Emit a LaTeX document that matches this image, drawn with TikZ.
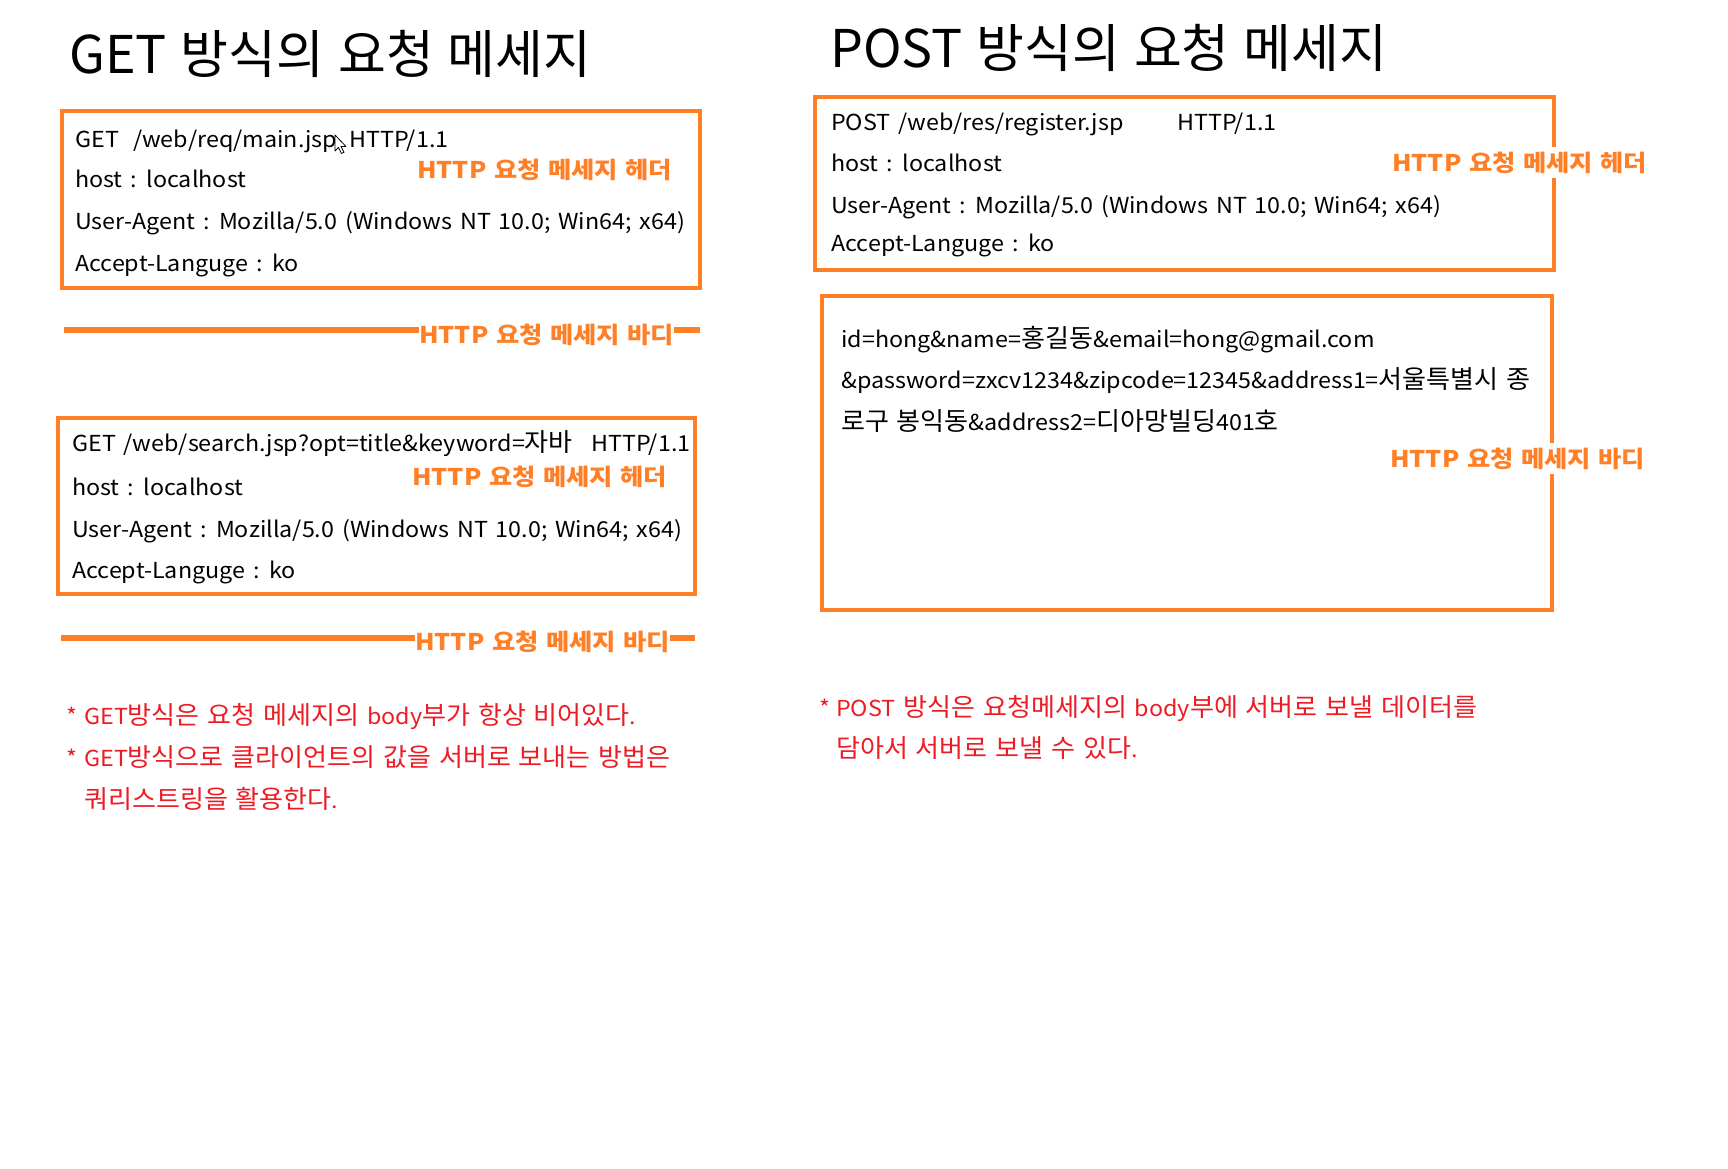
\documentclass[tikz,border=0pt]{standalone}
\usepackage{fontspec}
\setmainfont{Noto Sans CJK KR}[FakeStretch=1.06, WordSpace=1.5]
\newfontfamily\hangf{Noto Sans CJK KR}[Scale=1.15, FakeStretch=1.03, WordSpace=1.3]
\newfontfamily\lblfam{Noto Sans CJK KR}[FakeStretch=1.1, WordSpace=1.3]
\newfontfamily\ttlfam{Noto Sans CJK KR}[WordSpace=1.2]
\newXeTeXintercharclass\hangulclass
\count255="AC00
\loop\ifnum\count255<"D7A4 \XeTeXcharclass\count255=\hangulclass \advance\count255 by 1 \repeat
\XeTeXinterchartoks 0 \hangulclass = {\hangf}
\XeTeXinterchartoks 4095 \hangulclass = {\hangf}
\XeTeXinterchartoks \hangulclass 0 = {\rmfamily}
\XeTeXinterchartoks \hangulclass 4095 = {\rmfamily}
\XeTeXinterchartokenstate=1
\usetikzlibrary{calc}
\definecolor{orng}{RGB}{255,127,39}
\definecolor{rd}{RGB}{237,28,36}
\newcommand{\bodyf}{\fontsize{22}{26}\selectfont}
\newcommand{\lblf}{\XeTeXinterchartokenstate=0 \lblfam\fontsize{23}{27}\selectfont\bfseries}
\newcommand{\titlef}{\XeTeXinterchartokenstate=0 \ttlfam\fontsize{52}{58}\selectfont}
\begin{document}
\begin{tikzpicture}[x=1pt,y=-1pt,
  box/.style={draw=orng,line width=3.3pt},
  txt/.style={anchor=base west,inner sep=0pt,font=\bodyf,text=black},
  lbl/.style={anchor=base west,inner xsep=0pt,inner ysep=5pt,font=\lblf,text=orng},
  wlbl/.style={lbl,fill=white},
  note/.style={anchor=base west,inner sep=0pt,font=\bodyf,text=rd},
  ttl/.style={anchor=base west,inner sep=0pt,font=\titlef,text=black},
  divider/.style={draw=orng,line width=5.5pt},
  cursor/.style={draw=black,fill=white,line width=0.8pt,line join=round}]
\useasboundingbox[fill=white] (0,0) rectangle (1728,1168);

% titles
\node[ttl] (t1) at (69,73) {GET 방식의 요청 메세지};
\node[ttl] (t2) at (830,67) {POST 방식의 요청 메세지};

% GET box 1
\draw[box] (62,111) rectangle (700,288);
\node[txt] (a1) at (75,147) {GET};
\node[txt] (a2) at (133,147) {/web/req/main.jsp};
\node[txt] (a3) at (349,147) {HTTP/1.1};
\node[txt] (a4) at (75,187) {host : localhost};
\node[txt] (a5) at (75,229) {User-Agent : Mozilla/5.0 (Windows NT 10.0; Win64; x64)};
\node[txt] (a6) at (75,271) {Accept-Languge : ko};
\node[lbl] (ah) at (417,178) {HTTP 요청 메세지 헤더};
\draw[cursor] (335,135) -- ++(0,16) -- ++(3.5,-3.5) -- ++(3,6) -- ++(2.5,-1.2) -- ++(-3,-5.8) -- ++(5,0) -- cycle;

% GET body 1
\node[lbl,inner ysep=0pt] (ab) at (419,343) {HTTP 요청 메세지 바디};
\coordinate (ab1) at (64,330);
\coordinate (ab2) at (700,330);
\draw[divider] (ab1) -- (ab1 -| ab.west);
\draw[divider] (ab2 -| ab.east) -- (ab2);

% GET box 2
\draw[box] (58,418) rectangle (695,594);
\node[txt] (b1) at (72,451) {GET /web/search.jsp?opt=title\&keyword=자바};
\node[txt] (b2) at (591,451) {HTTP/1.1};
\node[txt] (b3) at (72,495) {host : localhost};
\node[txt] (b4) at (72,537) {User-Agent : Mozilla/5.0 (Windows NT 10.0; Win64; x64)};
\node[txt] (b5) at (72,578) {Accept-Languge : ko};
\node[lbl] (bh) at (412,485) {HTTP 요청 메세지 헤더};

% GET body 2
\node[lbl,inner ysep=0pt] (bb) at (415,650) {HTTP 요청 메세지 바디};
\coordinate (bb1) at (61,638);
\coordinate (bb2) at (695,638);
\draw[divider] (bb1) -- (bb1 -| bb.west);
\draw[divider] (bb2 -| bb.east) -- (bb2);

% GET notes
\node[note] (n1s) at (66,724) {*};
\node[note] (n1) at (84,724) {GET방식은 요청 메세지의 body부가 항상 비어있다.};
\node[note] (n2s) at (66,766) {*};
\node[note] (n2) at (84,766) {GET방식으로 클라이언트의 값을 서버로 보내는 방법은};
\node[note] (n3) at (84,808) {쿼리스트링을 활용한다.};

% POST header box
\draw[box] (815,97) rectangle (1554,270);
\node[txt] (c1) at (831,130) {POST /web/res/register.jsp};
\node[txt] (c2) at (1177,130) {HTTP/1.1};
\node[txt] (c3) at (831,171) {host : localhost};
\node[txt] (c4) at (831,213) {User-Agent : Mozilla/5.0 (Windows NT 10.0; Win64; x64)};
\node[txt] (c5) at (831,251) {Accept-Languge : ko};
\node[wlbl] (ch) at (1392,171) {HTTP 요청 메세지 헤더};

% POST body box
\draw[box] (822,296) rectangle (1552,610);
\node[txt] (d1) at (841,347) {id=hong\&name=홍길동\&email=hong@gmail.com};
\node[txt] (d2) at (841,388) {\&password=zxcv1234\&zipcode=12345\&address1=서울특별시 종};
\node[txt] (d3) at (841,430) {로구 봉익동\&address2=디아망빌딩401호};
\node[wlbl] (dh) at (1390,467) {HTTP 요청 메세지 바디};

% POST notes
\node[note] (m1s) at (819,716) {*};
\node[note] (m1) at (836,716) {POST 방식은 요청메세지의 body부에 서버로 보낼 데이터를};
\node[note] (m2) at (836,757) {담아서 서버로 보낼 수 있다.};
\end{tikzpicture}
\end{document}
